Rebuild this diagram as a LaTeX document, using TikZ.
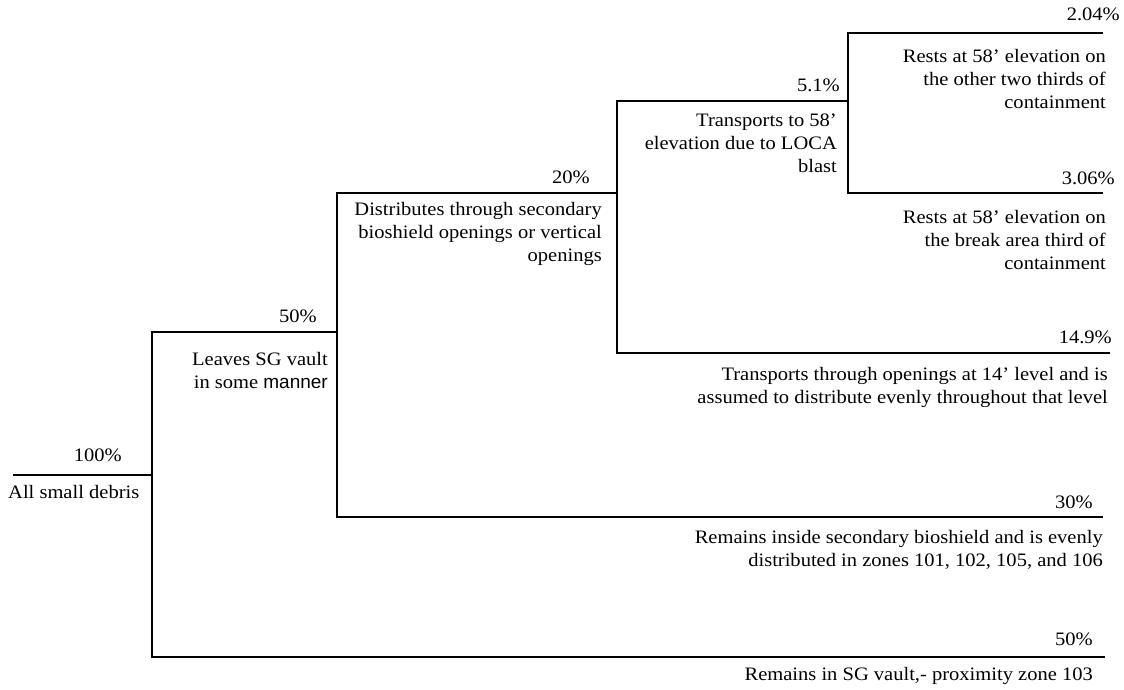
\documentclass[tikz,border=0pt]{standalone}
\usepackage{fontspec}
\setmainfont{Liberation Serif}[FakeStretch=1.08]
\setsansfont{Liberation Sans}
\begin{document}
\begin{tikzpicture}[x=1pt,y=-1pt,
    branch/.style={line width=1.6pt},
    pct/.style={anchor=base east,inner sep=0pt},
    note/.style={anchor=north east,align=right,inner sep=0pt}]
        \fontsize{19}{23}\selectfont
        \useasboundingbox (0,0) rectangle (1124,690);
        % split points and leaf ends
        \coordinate (root) at (13,475);
        \coordinate (s0) at (152,475);
        \coordinate (s1) at (337,332);
        \coordinate (s2) at (617,193);
        \coordinate (s3) at (848,101);
        \coordinate (e204) at (1103,33);
        \coordinate (e306) at (1103,193);
        \coordinate (e149) at (1110,353);
        \coordinate (e30) at (1103,517);
        \coordinate (e50) at (1105,657);
        % tree
        \draw[branch] (root) -- (s0);
        \draw[branch] (s1) -| (s0) |- (e50);
        \draw[branch] (s2) -| (s1) |- (e30);
        \draw[branch] (s3) -| (s2) |- (e149);
        \draw[branch] (e204) -| (s3) |- (e306);
        % percentages
        \node[pct] (p100) at (122,461) {100\%};
        \node[pct] (p50a) at (317,322) {50\%};
        \node[pct] (p20) at (590,183) {20\%};
        \node[pct] (p51) at (840,92) {5.1\%};
        \node[pct] (p204) at (1120,21) {2.04\%};
        \node[pct] (p306) at (1115,184) {3.06\%};
        \node[pct] (p149) at (1112,343) {14.9\%};
        \node[pct] (p30) at (1093,508) {30\%};
        \node[pct] (p50b) at (1093,645) {50\%};
        % descriptions
        \node[anchor=base west,inner sep=0pt] (all) at (8,498) {All small debris};
        \node[note] (leaves) at (328,352) {Leaves SG vault\\in some {\sffamily manner}};
        \node[note] (distr) at (602,202) {Distributes through secondary\\bioshield openings or vertical\\openings};
        \node[note] (loca) at (837,114) {Transports to 58'\\elevation due to LOCA\\blast};
        \node[note] (two) at (1106,49) {Rests at 58' elevation on\\the other two thirds of\\containment};
        \node[note] (brk) at (1106,210) {Rests at 58' elevation on\\the break area third of\\containment};
        \node[note] (lvl) at (1108,367) {Transports through openings at 14' level and is\\assumed to distribute evenly throughout that level};
        \node[note] (inside) at (1103,530) {Remains inside secondary bioshield and is evenly\\distributed in zones 101, 102, 105, and 106};
        \node[note] (vault) at (1093,667) {Remains in SG vault,- proximity zone 103};
\end{tikzpicture}
\end{document}
